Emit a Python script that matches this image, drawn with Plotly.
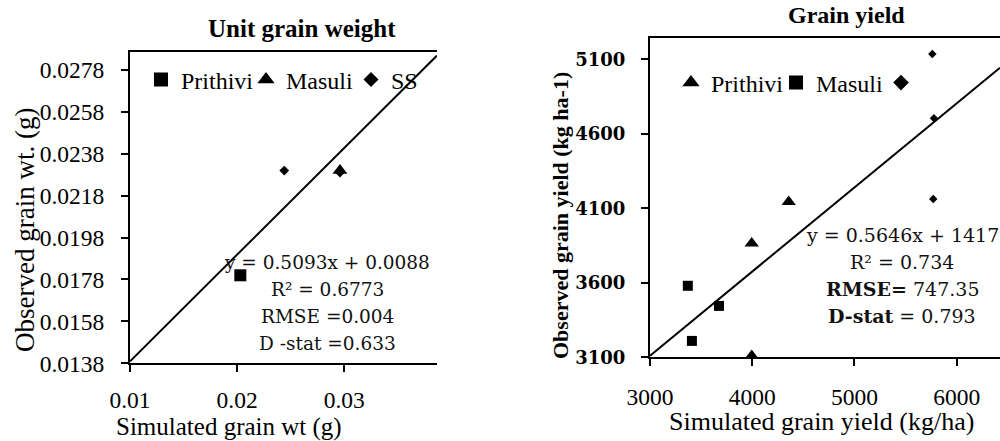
import plotly.graph_objects as go

# ---------------- Data: Unit grain weight (left panel) ----------------
ugw_prithivi_sim = [0.0203]
ugw_prithivi_obs = [0.0180]
ugw_masuli_sim = [0.0296]
ugw_masuli_obs = [0.0230]
ugw_ss_sim = [0.0244, 0.0296]
ugw_ss_obs = [0.0230, 0.0229]
ugw_fit = [0.5093, 0.0088]          # slope, intercept
ugw_xticks = [0.01, 0.02, 0.03]
ugw_xticklabels = ["0.01", "0.02", "0.03"]
ugw_yticks = [0.0138, 0.0158, 0.0178, 0.0198, 0.0218, 0.0238, 0.0258, 0.0278]
ugw_yticklabels = ["0.0138", "0.0158", "0.0178", "0.0198", "0.0218", "0.0238", "0.0258", "0.0278"]
ugw_stats = ["y = 0.5093x + 0.0088", "R² = 0.6773", "RMSE =0.004", "D -stat =0.633"]

# ---------------- Data: Grain yield (right panel) ----------------
gy_prithivi_sim = [3995, 4357, 3995]
gy_prithivi_obs = [3865, 4144, 3110]
gy_masuli_sim = [3370, 3675, 3410]
gy_masuli_obs = [3580, 3445, 3210]
gy_ss_sim = [5762, 5778, 5771]
gy_ss_obs = [5136, 4704, 4162]
gy_fit = [0.5646, 1417]             # slope, intercept
gy_xticks = [3000, 4000, 5000, 6000]
gy_xticklabels = ["3000", "4000", "5000", "6000"]
gy_yticks = [3100, 3600, 4100, 4600, 5100]
gy_yticklabels = ["3100", "3600", "4100", "4600", "5100"]
gy_stats = ["y = 0.5646x + 1417", "R² = 0.734", "<b>RMSE=</b> 747.35", "<b>D-stat</b> = 0.793"]

W, H = 1000, 441
SERIF = "Liberation Serif"
WIDE = "DejaVu Serif"

ugw_xrange = [0.01, 0.03866]
ugw_yrange = [0.0138, 0.02867]
gy_xrange = [3000, 6424]
gy_yrange = [3100, 5245]

fig = go.Figure()

# ---- left panel ----
fig.add_trace(go.Scatter(x=ugw_xrange, y=[ugw_fit[0] * v + ugw_fit[1] for v in ugw_xrange],
                         mode="lines", line=dict(color="black", width=2),
                         showlegend=False, xaxis="x", yaxis="y", hoverinfo="skip"))
fig.add_trace(go.Scatter(x=ugw_prithivi_sim, y=ugw_prithivi_obs, mode="markers",
                         marker=dict(symbol="square", size=12, color="black"),
                         showlegend=False, xaxis="x", yaxis="y", cliponaxis=False))
fig.add_trace(go.Scatter(x=ugw_ss_sim, y=ugw_ss_obs, mode="markers",
                         marker=dict(symbol="diamond", size=7.5, color="black"),
                         showlegend=False, xaxis="x", yaxis="y", cliponaxis=False))
fig.add_trace(go.Scatter(x=ugw_masuli_sim, y=ugw_masuli_obs, mode="markers",
                         marker=dict(symbol="triangle-up", size=13, color="black"),
                         showlegend=False, xaxis="x", yaxis="y", cliponaxis=False))
# legend entries (left)
for nm, sym, sz in [("Prithivi", "square", 14), ("Masuli", "triangle-up", 15), ("SS", "diamond", 11.5)]:
    fig.add_trace(go.Scatter(x=[None], y=[None], mode="markers", name=nm,
                             marker=dict(symbol=sym, size=sz, color="black"),
                             legend="legend", xaxis="x", yaxis="y"))

# ---- right panel ----
fig.add_trace(go.Scatter(x=gy_xrange, y=[gy_fit[0] * v + gy_fit[1] for v in gy_xrange],
                         mode="lines", line=dict(color="black", width=2),
                         showlegend=False, xaxis="x2", yaxis="y2", hoverinfo="skip"))
fig.add_trace(go.Scatter(x=gy_masuli_sim, y=gy_masuli_obs, mode="markers",
                         marker=dict(symbol="square", size=10, color="black"),
                         showlegend=False, xaxis="x2", yaxis="y2", cliponaxis=False))
fig.add_trace(go.Scatter(x=gy_prithivi_sim, y=gy_prithivi_obs, mode="markers",
                         marker=dict(symbol="triangle-up", size=12.5, color="black"),
                         showlegend=False, xaxis="x2", yaxis="y2", cliponaxis=False))
fig.add_trace(go.Scatter(x=gy_ss_sim, y=gy_ss_obs, mode="markers",
                         marker=dict(symbol="diamond", size=6.5, color="black"),
                         showlegend=False, xaxis="x2", yaxis="y2", cliponaxis=False))
for nm, sym, sz in [("Prithivi", "triangle-up", 15), ("Masuli", "square", 14), (" ", "diamond", 12)]:
    fig.add_trace(go.Scatter(x=[None], y=[None], mode="markers", name=nm,
                             marker=dict(symbol=sym, size=sz, color="black"),
                             legend="legend2", xaxis="x2", yaxis="y2"))

axis_common = dict(showgrid=False, zeroline=False, showline=True, linecolor="black", linewidth=2,
                   ticks="outside", ticklen=7, tickwidth=1.5, tickcolor="black", automargin=False)

def px(v):
    return v / W

def py(v):
    return 1 - v / H

fig.update_layout(
    template="none",
    width=W, height=H,
    margin=dict(l=0, r=0, t=0, b=0, pad=0),
    paper_bgcolor="white", plot_bgcolor="white",
    xaxis=dict(domain=[px(130), px(437)], range=ugw_xrange, anchor="y",
               tickvals=ugw_xticks, ticktext=ugw_xticklabels, mirror=True,
               tickfont=dict(family=SERIF, size=23.5, color="black"), ticklabelstandoff=7,
               **axis_common),
    yaxis=dict(domain=[py(363.3), py(51.7)], range=ugw_yrange, anchor="x",
               tickvals=ugw_yticks, ticktext=ugw_yticklabels,
               tickfont=dict(family=SERIF, size=23.5, color="black"), ticklabelstandoff=12,
               **axis_common),
    xaxis2=dict(domain=[px(650), 1.0], range=gy_xrange, anchor="y2",
                tickvals=gy_xticks, ticktext=gy_xticklabels, mirror=True,
                tickfont=dict(family=SERIF, size=23.5, color="black"), ticklabelstandoff=10,
                **axis_common),
    yaxis2=dict(domain=[py(357.3), py(37.7)], range=gy_yrange, anchor="x2",
                tickvals=gy_yticks, ticktext=gy_yticklabels,
                tickfont=dict(family="DejaVu Serif", size=18, color="black", weight="bold"),
                ticklabelstandoff=12,
                **axis_common),
    legend=dict(orientation="h", x=px(141), y=py(80), xanchor="left", yanchor="middle",
                font=dict(family=SERIF, size=24, color="black"), bgcolor="rgba(0,0,0,0)",
                itemwidth=30, tracegroupgap=0, entrywidth=60, entrywidthmode="pixels"),
    legend2=dict(orientation="h", x=px(671), y=py(83), xanchor="left", yanchor="middle",
                 font=dict(family=SERIF, size=24, color="black"), bgcolor="rgba(0,0,0,0)",
                 itemwidth=30, tracegroupgap=0, entrywidth=60, entrywidthmode="pixels"),
)

annotations = []
def ann(text, x, y, size, family=SERIF, bold=False, angle=0, color="black"):
    annotations.append(dict(text=(f"<b>{text}</b>" if bold else text), x=px(x), y=py(y),
                            xref="paper", yref="paper", xanchor="center", yanchor="middle",
                            showarrow=False, textangle=angle,
                            font=dict(family=family, size=size, color=color)))

# titles
ann("Unit grain weight", 302, 28, 25, bold=True)
ann("Grain yield", 846, 15, 24, bold=True)
# axis titles
ann("Simulated grain wt (g)", 229, 427, 25)
ann("Observed grain wt. (g)", 25, 230, 27, angle=-90)
ann("Simulated grain yield (kg/ha)", 821, 421, 26)
ann("Observed grain yield (kg ha-1)", 560, 216, 22, bold=True, angle=-90)
# stats
for i, t in enumerate(ugw_stats):
    ann(t, 327, 262 + 27 * i, 18.5, family=WIDE, color="#111")
for i, t in enumerate(gy_stats):
    ann(t, 902, 235 + 27 * i, 19, family=WIDE, color="#111")

fig.update_layout(annotations=annotations)
fig.write_html("out.html")
